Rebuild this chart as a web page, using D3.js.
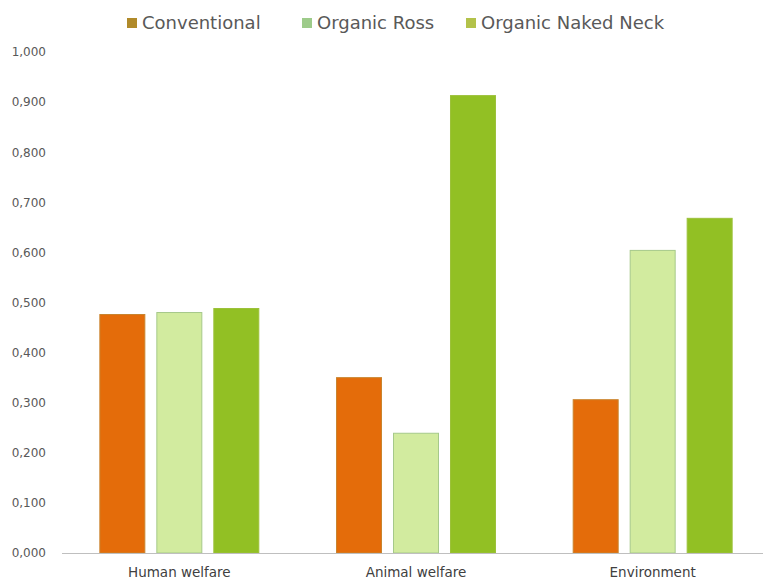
<!DOCTYPE html>
<html><head><meta charset="utf-8">
<script src="https://cdn.jsdelivr.net/npm/d3@7"></script>
<style>body{margin:0;background:#fff}</style>
</head><body>
<svg id="c" width="763" height="583"></svg>
<script>
const categories = ["Human welfare", "Animal welfare", "Environment"];
const seriesNames = ["Conventional", "Organic Ross", "Organic Naked Neck"];
const conventional = [0.477, 0.351, 0.307];
const organicRoss = [0.481, 0.240, 0.605];
const organicNakedNeck = [0.489, 0.914, 0.669];
const yTicks = [0, 0.1, 0.2, 0.3, 0.4, 0.5, 0.6, 0.7, 0.8, 0.9, 1.0];

const seriesValues = [conventional, organicRoss, organicNakedNeck];
const barFill = ["#e46c0a", "#d2eb9f", "#92c024"];
const barStroke = ["#c9842e", "#a6c98a", "#9cc13a"];
const legendColor = ["#b08a2a", "#9dcb8a", "#b3c24a"];
const font = "'DejaVu Sans', sans-serif";

const svg = d3.select("#c");
const y = d3.scaleLinear().domain([0, 1]).range([553, 52]);
const x0 = d3.scaleBand().domain(categories).range([61, 771]).padding(0);
const x1 = d3.scaleBand().domain(seriesNames).range([0, x0.bandwidth()])
  .paddingInner(0.193).paddingOuter(0.673);

// y tick labels
const yAxis = d3.axisLeft(y).tickValues(yTicks).tickSize(0).tickPadding(0)
  .tickFormat(d => d3.format(".3f")(d).replace(".", ","));
const gy = svg.append("g").attr("transform", "translate(46,0)").call(yAxis);
gy.select(".domain").remove();
gy.selectAll("text").attr("fill", "#595959").style("font-family", font).style("font-size", "12px");

// bars
const groups = svg.append("g").selectAll("g").data(categories).join("g")
  .attr("transform", d => `translate(${x0(d)},0)`);
groups.selectAll("rect").data((c, ci) => seriesNames.map((s, si) => ({s, si, v: seriesValues[si][ci]})))
  .join("rect")
  .attr("x", d => x1(d.s) + 0.5)
  .attr("width", x1.bandwidth() - 1)
  .attr("y", d => y(d.v) + 0.5)
  .attr("height", d => y(0) - y(d.v) - 0.5)
  .attr("fill", d => barFill[d.si])
  .attr("stroke", d => barStroke[d.si])
  .attr("stroke-width", 1);

// x axis
const xAxis = d3.axisBottom(x0).tickSize(0).tickPadding(14);
const gx = svg.append("g").attr("transform", "translate(0,553)").call(xAxis);
gx.select(".domain").remove();
svg.append("line").attr("x1", 62).attr("x2", 763).attr("y1", 553.5).attr("y2", 553.5)
  .attr("stroke", "#bfbfbf").attr("stroke-width", 1.2);
gx.selectAll("text").attr("fill", "#404040").style("font-family", font).style("font-size", "13.5px");

// legend
const legendX = [127, 302, 466];
const lg = svg.append("g").selectAll("g").data(seriesNames).join("g")
  .attr("transform", (d, i) => `translate(${legendX[i]},0)`);
lg.append("rect").attr("x", 0).attr("y", 18).attr("width", 10).attr("height", 10)
  .attr("fill", (d, i) => legendColor[i]);
lg.append("text").attr("x", 15).attr("y", 29).text(d => d)
  .attr("fill", "#595959").style("font-family", font).style("font-size", "18px");
</script>
</body></html>
